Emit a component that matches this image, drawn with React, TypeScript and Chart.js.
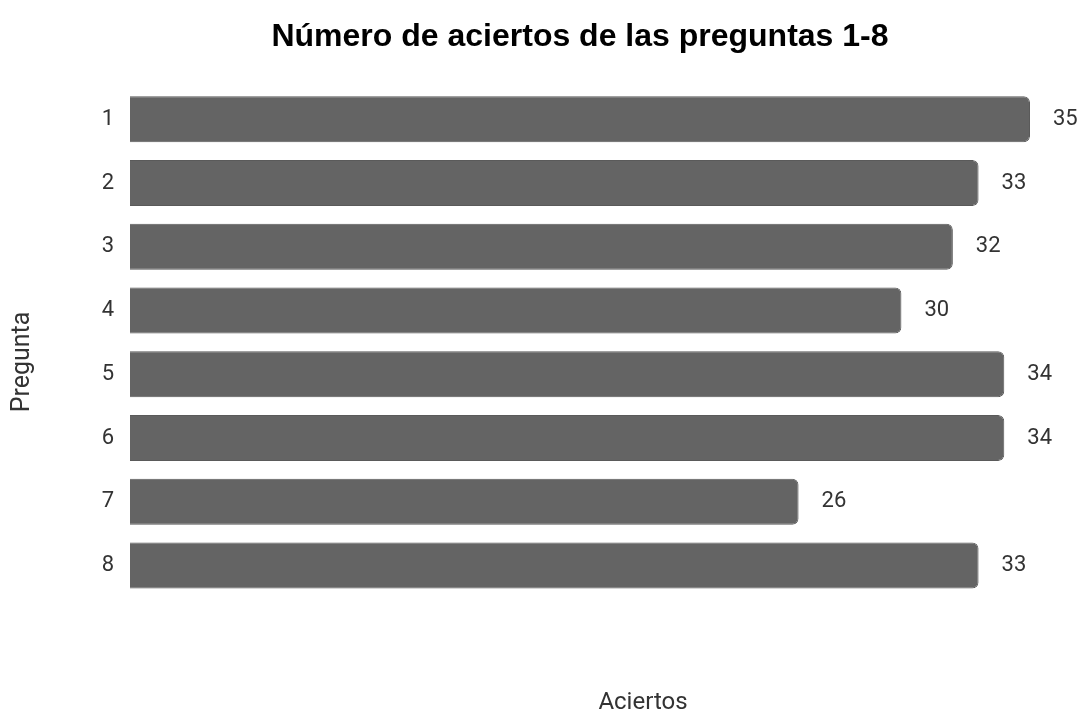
import React, { useEffect, useRef } from "react";
import { Chart, registerables } from "chart.js";

Chart.register(...registerables);

const preguntas = ["1", "2", "3", "4", "5", "6", "7", "8"];
const aciertos = [35, 33, 32, 30, 34, 34, 26, 33];
const titulo = "Número de aciertos de las preguntas 1-8";
const tituloX = "Aciertos";
const tituloY = "Pregunta";

const labelFont = "Roboto, 'Liberation Sans', sans-serif";

const extrasPlugin = {
  id: "extras",
  afterDatasetsDraw(chart: any) {
    const ctx = chart.ctx;
    const meta = chart.getDatasetMeta(0);
    ctx.save();
    ctx.fillStyle = "#333333";
    ctx.font = `22px ${labelFont}`;
    ctx.textAlign = "left";
    ctx.textBaseline = "middle";
    meta.data.forEach((bar: any, i: number) => {
      ctx.fillText(String(aciertos[i]), bar.x + 23, bar.y);
    });
    // axis titles
    ctx.textAlign = "center";
    ctx.font = `24px ${labelFont}`;
    ctx.fillText(tituloX, 643, 703);
    ctx.font = `25px ${labelFont}`;
    ctx.translate(23, 362);
    ctx.rotate(-Math.PI / 2);
    ctx.fillText(tituloY, 0, 0);
    ctx.restore();
  },
};

export default function App() {
  const ref = useRef<HTMLCanvasElement | null>(null);
  useEffect(() => {
    document.body.style.margin = "0";
    const chart = new Chart(ref.current as HTMLCanvasElement, {
      type: "bar",
      data: {
        labels: preguntas,
        datasets: [
          {
            data: aciertos,
            backgroundColor: "#646464",
            borderColor: "#5a5a5a",
            borderWidth: 1,
            borderRadius: 6,
            borderSkipped: "start",
            categoryPercentage: 1,
            barPercentage: 0.72,
          },
        ],
      },
      options: {
        indexAxis: "y",
        responsive: false,
        animation: false,
        layout: { padding: { left: 0, right: 52, top: 0, bottom: 115.6 } },
        plugins: {
          legend: { display: false },
          tooltip: { enabled: false },
          title: {
            display: true,
            text: titulo,
            fullSize: false,
            color: "#000000",
            font: { family: "'Liberation Sans', Arial, sans-serif", size: 32, weight: "bold" },
            padding: { top: 18, bottom: 31 },
          },
        },
        scales: {
          x: { display: false, min: 0, max: 35 },
          y: {
            afterFit: (s: any) => {
              s.width = 130;
            },
            grid: { display: false, drawTicks: false },
            border: { display: false },
            ticks: {
              color: "#333333",
              padding: 16,
              font: { family: labelFont, size: 22 },
            },
          },
        },
      },
      plugins: [extrasPlugin],
    });
    return () => chart.destroy();
  }, []);
  return (
    <div style={{ width: 1082, height: 713 }}>
      <canvas ref={ref} width={1082} height={713} />
    </div>
  );
}
